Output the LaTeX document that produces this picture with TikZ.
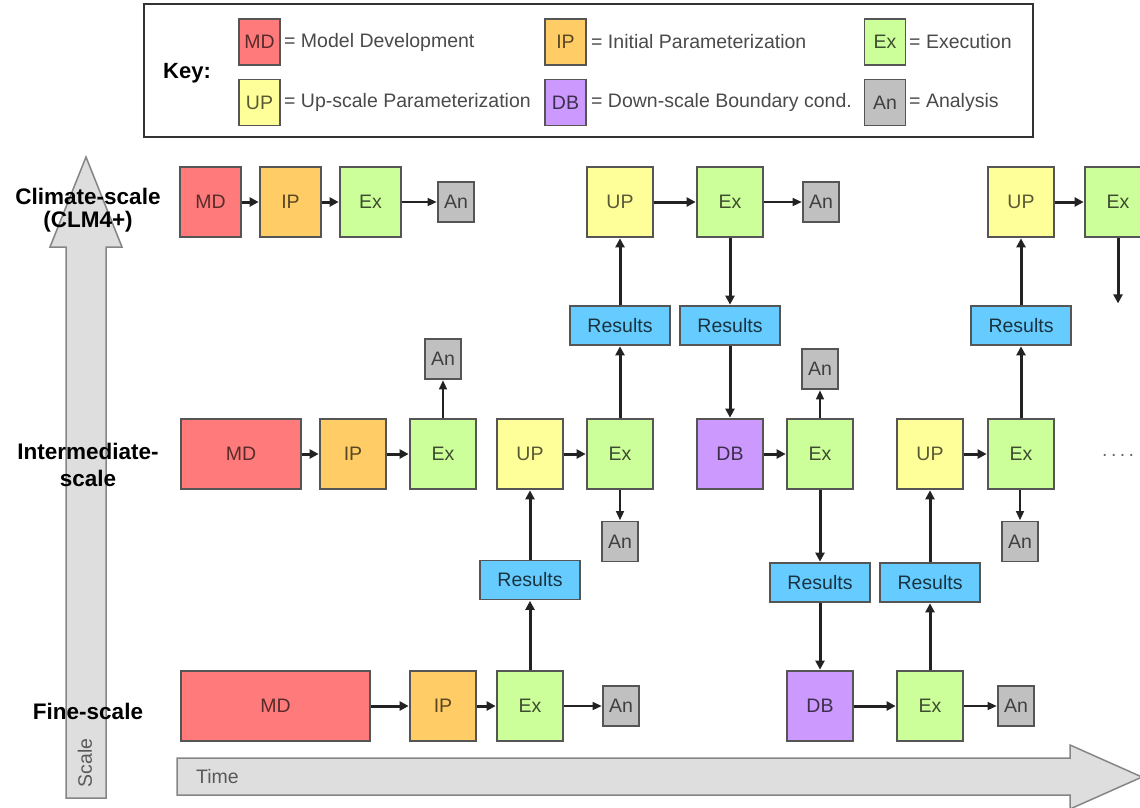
\documentclass[tikz,border=0pt]{standalone}
\usepackage{fontspec}
\setmainfont{Liberation Sans}
\usetikzlibrary{arrows.meta}

\definecolor{mdfill}{HTML}{FF7B7B}
\definecolor{ipfill}{HTML}{FFCC66}
\definecolor{exfill}{HTML}{CCFF99}
\definecolor{upfill}{HTML}{FFFF99}
\definecolor{dbfill}{HTML}{CC99FF}
\definecolor{anfill}{HTML}{C0C0C0}
\definecolor{resfill}{HTML}{66CCFF}
\definecolor{boxline}{HTML}{555555}
\definecolor{bigfill}{HTML}{DEDEDE}
\definecolor{bigline}{HTML}{858585}
\definecolor{flow}{HTML}{222222}
\definecolor{keytext}{HTML}{4A4A4A}

\begin{document}
\begin{tikzpicture}[x=1pt, y=-1pt,
  font=\fontsize{19.5}{22}\selectfont,
  box/.style={draw=boxline, line width=1.5pt, inner sep=0pt,
              minimum width=66pt, minimum height=70pt},
  md/.style={box, fill=mdfill, text=mdfill!35!black},
  ip/.style={box, fill=ipfill, text=ipfill!35!black},
  ex/.style={box, fill=exfill, text=exfill!30!black},
  up/.style={box, fill=upfill, text=upfill!35!black},
  db/.style={box, fill=dbfill, text=dbfill!30!black},
  an/.style={box, fill=anfill, text=black!75, minimum width=36pt, minimum height=40pt},
  res/.style={box, fill=resfill, text=resfill!25!black, minimum width=100pt, minimum height=39pt},
  keybox/.style={minimum width=41pt, minimum height=46pt},
  keylabel/.style={anchor=west, inner sep=0pt, text=keytext},
  scalelabel/.style={font=\fontsize{22.5}{25}\selectfont\bfseries, text=black, inner sep=0pt},
  axislabel/.style={text=black!65, inner sep=0pt},
  flowarrow/.style={draw=flow, line width=3pt, shorten >=0.6pt,
                    -{Triangle[length=9pt,width=9pt]}},
  anarrow/.style={draw=flow, line width=1.4pt, shorten >=0.6pt,
                  -{Triangle[length=9pt,width=8pt]}}
]
\useasboundingbox (0,0) rectangle (1140,807);
\clip (0,0) rectangle (1140,807);

% ---------- key ----------
\draw[draw=black!80, line width=2pt, fill=white] (144,4) rectangle (1033,137);
\node[scalelabel, font=\fontsize{22}{24}\selectfont\bfseries] (keyhead) at (187,73) {Key:};

\node[md, keybox] (kMD) at (259.5,42) {MD};
\node[keylabel] (tMD) at (284,42) {= Model Development};
\node[ip, keybox] (kIP) at (565.5,42) {IP};
\node[keylabel] (tIP) at (591,42) {= Initial Parameterization};
\node[ex, keybox] (kEx) at (885,42) {Ex};
\node[keylabel] (tEx) at (909,42) {= Execution};

\node[up, keybox] (kUP) at (259.5,102.5) {UP};
\node[keylabel] (tUP) at (284,102.5) {= Up-scale Parameterization};
\node[db, keybox] (kDB) at (565.5,102.5) {DB};
\node[keylabel] (tDB) at (591,102.5) {= Down-scale Boundary cond.};
\node[an, keybox] (kAn) at (885,102.5) {An};
\node[keylabel] (tAn) at (909,102.5) {= Analysis};

% ---------- axes ----------
\draw[fill=bigfill, draw=bigline, line width=1.5pt]
  (66,798) -- (66,247) -- (50,247) -- (86,157) -- (122,247) -- (106,247) -- (106,798) -- cycle;
\draw[fill=bigfill, draw=bigline, line width=1.5pt]
  (177,758) -- (1070,758) -- (1070,745) -- (1142,777) -- (1070,809) -- (1070,795) -- (177,795) -- cycle;
\node[axislabel, rotate=90] (scaleaxis) at (85,763) {Scale};
\node[axislabel, anchor=west] (timeaxis) at (196,777) {Time};

% ---------- scale labels ----------
\node[scalelabel] (climA) at (88,196) {Climate-scale};
\node[scalelabel] (climB) at (88,222) {(CLM4+)};
\node[scalelabel] (interA) at (88,451) {Intermediate-};
\node[scalelabel] (interB) at (88,478) {scale};
\node[scalelabel] (fine) at (88,711) {Fine-scale};

% ---------- climate-scale row ----------
\node[md, minimum width=61pt] (cMD) at (210.5,202) {MD};
\node[ip, minimum width=61pt] (cIP) at (290.5,202) {IP};
\node[ex, minimum width=61pt] (cEx) at (370.5,202) {Ex};
\node[an] (cAn) at (456,202) {An};
\node[up] (cUP) at (620,202) {UP};
\node[ex] (cEx2) at (730,202) {Ex};
\node[an] (cAn2) at (821,202) {An};
\node[up] (cUP3) at (1021,202) {UP};
\node[ex] (cEx3) at (1118,202) {Ex};
\coordinate (cOut) at (1118,304);

% ---------- intermediate-scale row ----------
\node[md, minimum width=120pt] (iMD) at (241,454) {MD};
\node[ip] (iIP) at (353,454) {IP};
\node[ex] (iEx) at (443,454) {Ex};
\node[an] (iAn) at (443,359) {An};
\node[up] (iUP) at (530,454) {UP};
\node[ex] (iEx2) at (620,454) {Ex};
\node[an] (iAn2) at (620,541.5) {An};
\node[db] (iDB) at (730,454) {DB};
\node[ex] (iEx3) at (820,454) {Ex};
\node[an] (iAn3) at (820,369) {An};
\node[up] (iUP4) at (930,454) {UP};
\node[ex] (iEx4) at (1021,454) {Ex};
\node[an] (iAn4) at (1020,541.5) {An};
\node[anchor=west, inner sep=0pt, text=black!60] (more) at (1102,455)
  {.\hspace{3.4pt}.\hspace{3.4pt}.\hspace{3.4pt}.};

% ---------- fine-scale row ----------
\node[md, minimum width=189pt] (fMD) at (275.5,706) {MD};
\node[ip] (fIP) at (443,706) {IP};
\node[ex] (fEx) at (530,706) {Ex};
\node[an] (fAn) at (621,706) {An};
\node[db] (fDB) at (820,706) {DB};
\node[ex] (fEx2) at (930,706) {Ex};
\node[an] (fAn2) at (1016,706) {An};

% ---------- results ----------
\node[res] (r1) at (530,580) {Results};
\node[res] (r2) at (620,325.5) {Results};
\node[res] (r3) at (730,325.5) {Results};
\node[res] (r4) at (820,582.5) {Results};
\node[res] (r5) at (930,582.5) {Results};
\node[res] (r6) at (1021,325.5) {Results};

% ---------- horizontal flow ----------
\draw[flowarrow] (cMD) -- (cIP);
\draw[flowarrow] (cIP) -- (cEx);
\draw[anarrow] (cEx) -- (cAn);
\draw[flowarrow] (cUP) -- (cEx2);
\draw[anarrow] (cEx2) -- (cAn2);
\draw[flowarrow] (cUP3) -- (cEx3);

\draw[flowarrow] (iMD) -- (iIP);
\draw[flowarrow] (iIP) -- (iEx);
\draw[anarrow] (iEx) -- (iAn);
\draw[flowarrow] (iUP) -- (iEx2);
\draw[anarrow] (iEx2) -- (iAn2);
\draw[flowarrow] (iDB) -- (iEx3);
\draw[anarrow] (iEx3) -- (iAn3);
\draw[flowarrow] (iUP4) -- (iEx4);
\draw[anarrow] (iEx4.south -| iAn4) -- (iAn4);

\draw[flowarrow] (fMD) -- (fIP);
\draw[flowarrow] (fIP) -- (fEx);
\draw[anarrow] (fEx) -- (fAn);
\draw[flowarrow] (fDB) -- (fEx2);
\draw[anarrow] (fEx2) -- (fAn2);

% ---------- exchange between scales ----------
\draw[flowarrow] (fEx) -- (r1);
\draw[flowarrow] (r1) -- (iUP);
\draw[flowarrow] (iEx2) -- (r2);
\draw[flowarrow] (r2) -- (cUP);
\draw[flowarrow] (cEx2) -- (r3);
\draw[flowarrow] (r3) -- (iDB);
\draw[flowarrow] (iEx3) -- (r4);
\draw[flowarrow] (r4) -- (fDB);
\draw[flowarrow] (fEx2) -- (r5);
\draw[flowarrow] (r5) -- (iUP4);
\draw[flowarrow] (iEx4) -- (r6);
\draw[flowarrow] (r6) -- (cUP3);
\draw[flowarrow] (cEx3) -- (cOut);
\end{tikzpicture}
\end{document}
